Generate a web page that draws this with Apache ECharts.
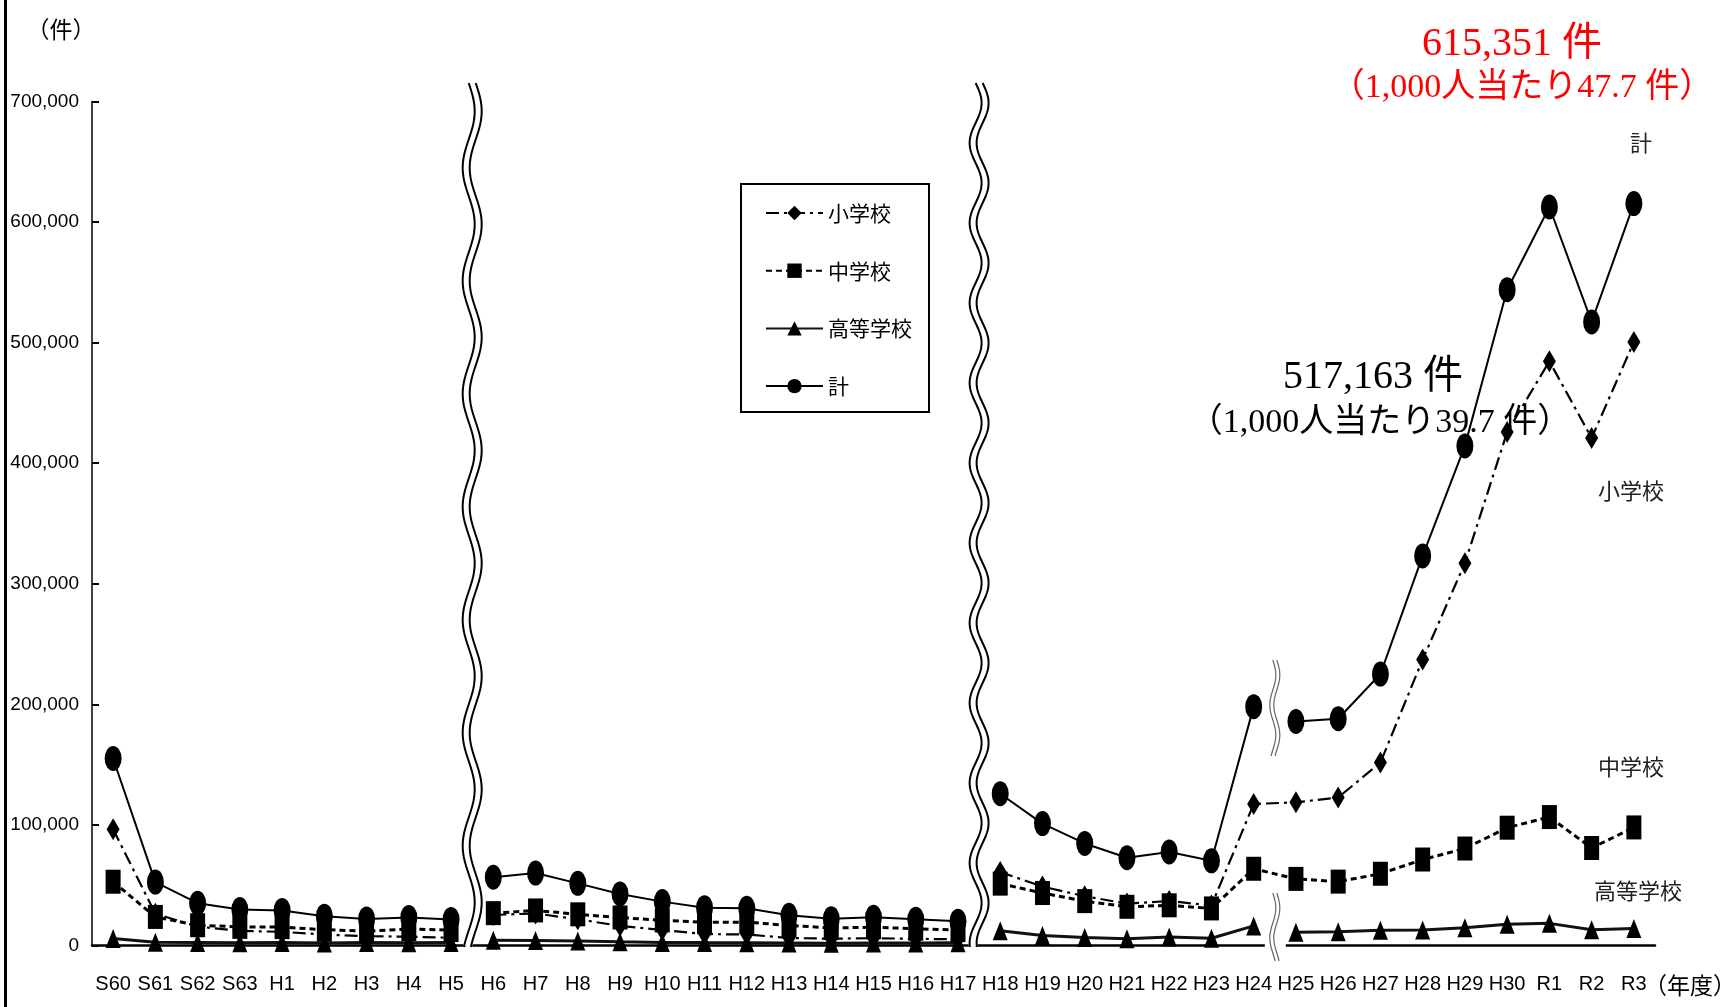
<!DOCTYPE html>
<html>
<head>
<meta charset="utf-8">
<script src="https://cdn.jsdelivr.net/npm/echarts@6.0.0/dist/echarts.min.js"></script>
<style>
  html, body { margin: 0; padding: 0; background: #fff; }
  #container { width: 1730px; height: 1007px; }
</style>
</head>
<body>
<div id="container"></div>
<script>
// fiscal years
const categories = ['S60','S61','S62','S63','H1','H2','H3','H4','H5',
  'H6','H7','H8','H9','H10','H11','H12','H13','H14','H15','H16','H17',
  'H18','H19','H20','H21','H22','H23','H24',
  'H25','H26','H27','H28','H29','H30','R1','R2','R3'];

const elementary = [96457,26306,15727,12122,11350,9035,7718,7300,6390,
  25295,26614,21733,16294,12858,9462,9114,6206,5659,6051,5551,5087,
  60897,48896,40807,34766,36909,33124,117384,
  118748,122734,151692,237256,317121,425844,484545,420897,500562];

const juniorHigh = [52891,23690,16796,15452,15215,13121,11922,13632,12817,
  26828,29069,25862,23234,20801,19383,19371,16635,14562,15159,13915,12794,
  51310,43505,36795,32111,33323,30749,63634,
  55248,52971,59502,71309,80424,97704,106524,80877,97937];

const highSchool = [5718,2614,2544,2212,2523,2152,2422,2326,2391,
  4253,4184,3771,3103,2576,2391,2327,2119,1906,2070,2121,2191,
  12307,8355,6737,5642,7018,6020,16274,
  11039,11404,12664,12874,14789,17709,18352,13126,14157];

const total = [155066,52610,35067,29786,29088,24308,22062,23258,21598,
  56601,60096,51544,42790,36396,31359,30918,25037,22205,23351,21671,20143,
  125898,101097,84648,72778,77630,70231,198109,
  185803,188072,225132,323143,414378,543933,612496,517163,615351];

// index ranges of each continuous line piece
const segmentsA = [[0, 8], [9, 20], [21, 36]];
const segmentsB = [[0, 8], [9, 20], [21, 27], [28, 36]];

const chart = echarts.init(document.getElementById('container'));

const sans = '"Liberation Sans", Arial, "Noto Sans CJK JP", sans-serif';
const cjk = '"Noto Sans CJK JP", sans-serif';

function pieces(name, values, segs, symbol, size, line) {
  return segs.map(([a, b]) => ({
    name: name,
    type: 'line',
    data: values.map((v, i) => (i >= a && i <= b ? v : '-')),
    symbol: symbol,
    symbolSize: size,
    itemStyle: { color: '#000' },
    lineStyle: line,
    connectNulls: false
  }));
}

const series = [].concat(
  pieces('小学校', elementary, segmentsA, 'diamond', [13, 22], { color: '#000', width: 2.2, type: [13, 5, 3, 5] }),
  pieces('中学校', juniorHigh, segmentsA, 'rect', [15, 24], { color: '#000', width: 3, type: [6, 4] }),
  pieces('高等学校', highSchool, segmentsB, 'triangle', [15, 19], { color: '#111', width: 3, type: 'solid' }),
  pieces('計', total, segmentsB, 'circle', [17, 25], { color: '#000', width: 2, type: 'solid' })
);

chart.setOption({
  animation: false,
  backgroundColor: '#fff',
  grid: { left: 92, right: 75, top: 101.5, bottom: 61.5, containLabel: false },
  legend: {
    data: ['小学校', '中学校', '高等学校', '計'],
    orient: 'vertical',
    left: 741,
    top: 184,
    itemWidth: 57,
    itemHeight: 18,
    itemGap: 35.7,
    padding: [18, 17, 15, 24],
    borderColor: '#000',
    borderWidth: 2,
    textStyle: { fontFamily: cjk, fontSize: 21, lineHeight: 22, color: '#000' }
  },
  xAxis: {
    type: 'category',
    data: categories,
    boundaryGap: true,
    axisLine: { lineStyle: { color: '#000', width: 2.5 } },
    axisTick: { inside: true, length: 8, lineStyle: { color: '#000', width: 1.5 } },
    axisLabel: { color: '#000', fontFamily: sans, fontSize: 20, margin: 29, interval: 0 },
    splitLine: { show: false }
  },
  yAxis: {
    type: 'value',
    min: 0,
    max: 700000,
    interval: 100000,
    axisLine: { show: true, lineStyle: { color: '#000', width: 1.5 } },
    axisTick: { show: true, inside: true, length: 7, lineStyle: { color: '#000', width: 2 } },
    axisLabel: {
      color: '#000', fontFamily: sans, fontSize: 19, margin: 13,
      formatter: v => v.toLocaleString('en-US')
    },
    splitLine: { show: false }
  },
  series: series
});

// break marks and annotations
function wave(xc, y0, y1, period, amp, sep, lw, color) {
  const pts = [];
  for (let y = y0; y <= y1; y += 2) {
    pts.push([xc + amp * Math.sin((y - y0) / period * 2 * Math.PI), y]);
  }
  return [
    { type: 'polyline', z: 100, shape: { points: pts }, style: { stroke: '#fff', lineWidth: sep + lw, fill: null } },
    { type: 'polyline', z: 101, shape: { points: pts.map(p => [p[0] - sep / 2, p[1]]) }, style: { stroke: color, lineWidth: lw, fill: null } },
    { type: 'polyline', z: 101, shape: { points: pts.map(p => [p[0] + sep / 2, p[1]]) }, style: { stroke: color, lineWidth: lw, fill: null } }
  ];
}

function between(a, b) {
  const pa = chart.convertToPixel({ xAxisIndex: 0 }, a);
  const pb = chart.convertToPixel({ xAxisIndex: 0 }, b);
  return (pa + pb) / 2;
}

function label(text, x, y, font, color) {
  return {
    type: 'text', z: 110, x: x, y: y,
    style: { text: text, font: font, fill: color, textAlign: 'center', textVerticalAlign: 'middle' }
  };
}

const yAxisBottom = chart.convertToPixel({ yAxisIndex: 0 }, 0);
const b1 = between('H5', 'H6');
const b2 = between('H17', 'H18');
const b3 = between('H24', 'H25');

const serif40 = '40px "Liberation Serif", "Noto Sans CJK JP", serif';
const serif34 = '34px "Liberation Serif", "Noto Sans CJK JP", serif';

const graphic = [].concat(
  [{ type: 'rect', z: 99, shape: { x: b3 - 10, y: yAxisBottom - 4, width: 21, height: 8 }, style: { fill: '#fff' } }],
  wave(b1, 83, yAxisBottom + 3, 113, 6, 7, 2, '#000'),
  wave(b2, 83, yAxisBottom + 3, 80, 6, 7, 2, '#000'),
  wave(b3, 660, 757, 60, 3, 4, 1.2, '#666'),
  wave(b3, 893, 962, 60, 3, 4, 1.2, '#666'),
  [
    { type: 'rect', z: 110, shape: { x: 4, y: 0, width: 3, height: 1007 }, style: { fill: '#000' } },
    label('（件）', 61, 29, '23px ' + cjk, '#000'),
    label('（年度）', 1690, 985, '23px ' + cjk, '#000'),
    label('計', 1641, 143, '22px ' + cjk, '#222'),
    label('小学校', 1631, 491, '22px ' + cjk, '#222'),
    label('中学校', 1631, 767, '22px ' + cjk, '#222'),
    label('高等学校', 1638, 891, '22px ' + cjk, '#222'),
    label('615,351 件', 1512, 44, serif40, '#ff0000'),
    label('（1,000人当たり47.7 件）', 1522, 88, serif34, '#ff0000'),
    label('517,163 件', 1373, 377, serif40, '#000'),
    label('（1,000人当たり39.7 件）', 1380, 423, serif34, '#000')
  ]
);

chart.setOption({ graphic: graphic });
</script>
</body>
</html>
